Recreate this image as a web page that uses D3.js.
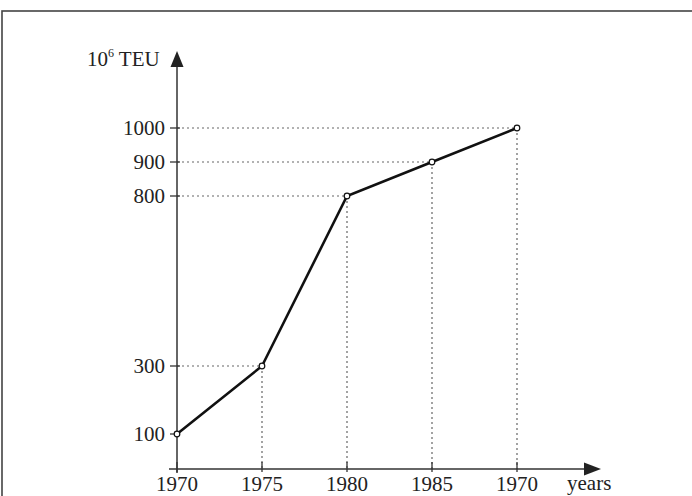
<!doctype html>
<html>
  <head>
    <meta charset="utf-8">
    <title>TEU</title>
    <script src="https://d3js.org/d3.v7.min.js"></script>
    <style>
      body { margin: 0; background: #fff; }
      text { font-family: "Liberation Serif", "DejaVu Serif", serif; fill: #222; }
    </style>
  </head>
  <body>
    <script>
      const width = 692;
      const height = 496;

      // data
      const years = [1970, 1975, 1980, 1985, 1990];
      const yearLabels = ['1970', '1975', '1980', '1985', '1970'];
      const teu = [100, 300, 800, 900, 1000];
      const yTicks = [100, 300, 800, 900, 1000];

      const svg = d3.select('body').append('svg')
          .attr('width', width)
          .attr('height', height);

      // frame (cut at right and bottom)
      svg.append('rect')
        .attr('x', 2).attr('y', 11)
        .attr('width', 760).attr('height', 560)
        .attr('fill', 'none')
        .attr('stroke', '#444')
        .attr('stroke-width', 1.6);

      const x = d3.scaleLinear().domain([1970, 1990]).range([177, 517]);
      const y = d3.scaleLinear().domain([0, 1000]).range([468, 128]);
      const axisY = 469;
      const fs = 21;

      const g = svg.append('g');

      // dotted guides
      const pts = years.map((yr, i) => ({ yr, v: teu[i], label: yearLabels[i] }));
      pts.filter(d => d.yr > 1970).forEach(d => {
        g.append('line')
          .attr('x1', x(1970)).attr('x2', x(d.yr))
          .attr('y1', y(d.v)).attr('y2', y(d.v))
          .attr('stroke', '#666').attr('stroke-width', 1.2)
          .attr('stroke-dasharray', '2,3');
        g.append('line')
          .attr('x1', x(d.yr)).attr('x2', x(d.yr))
          .attr('y1', y(d.v)).attr('y2', axisY)
          .attr('stroke', '#666').attr('stroke-width', 1.2)
          .attr('stroke-dasharray', '2,3');
      });

      // axes
      g.append('line')
        .attr('x1', x(1970)).attr('x2', x(1970))
        .attr('y1', 62).attr('y2', 473)
        .attr('stroke', '#333').attr('stroke-width', 1.5);
      g.append('path')
        .attr('d', d3.line()([[x(1970), 51], [x(1970) - 6.5, 67], [x(1970) + 6.5, 67]]) + 'Z')
        .attr('fill', '#222');

      g.append('line')
        .attr('x1', 169).attr('x2', 590)
        .attr('y1', axisY).attr('y2', axisY)
        .attr('stroke', '#333').attr('stroke-width', 1.5);
      g.append('path')
        .attr('d', d3.line()([[601, axisY], [584, axisY - 6.5], [584, axisY + 6.5]]) + 'Z')
        .attr('fill', '#222');

      // y ticks
      yTicks.forEach(v => {
        g.append('line')
          .attr('x1', x(1970) - 7).attr('x2', x(1970) + 3)
          .attr('y1', y(v)).attr('y2', y(v))
          .attr('stroke', '#333').attr('stroke-width', 1.3);
        g.append('text')
          .attr('x', 165).attr('y', y(v) + 7)
          .attr('text-anchor', 'end')
          .attr('font-size', fs)
          .text(v);
      });

      // x ticks
      pts.forEach(d => {
        g.append('line')
          .attr('x1', x(d.yr)).attr('x2', x(d.yr))
          .attr('y1', axisY - 7).attr('y2', axisY + 3)
          .attr('stroke', '#333').attr('stroke-width', 1.3);
        g.append('text')
          .attr('x', x(d.yr)).attr('y', 491)
          .attr('text-anchor', 'middle')
          .attr('font-size', fs)
          .text(d.label);
      });

      // axis titles
      const yt = g.append('text').attr('x', 87).attr('y', 66).attr('font-size', fs);
      yt.append('tspan').text('10');
      yt.append('tspan').attr('dy', -9).attr('font-size', 12).text('6');
      yt.append('tspan').attr('dy', 9).text(' TEU');

      g.append('text')
        .attr('x', 567).attr('y', 490)
        .attr('font-size', fs)
        .text('years');

      // line
      g.append('path')
        .datum(pts)
        .attr('d', d3.line().x(d => x(d.yr)).y(d => y(d.v)))
        .attr('fill', 'none')
        .attr('stroke', '#111')
        .attr('stroke-width', 2.6);

      g.selectAll('circle')
        .data(pts)
        .enter().append('circle')
          .attr('cx', d => x(d.yr))
          .attr('cy', d => y(d.v))
          .attr('r', 2.8)
          .attr('fill', '#fff')
          .attr('stroke', '#111')
          .attr('stroke-width', 1.2);
    </script>
  </body>
</html>
